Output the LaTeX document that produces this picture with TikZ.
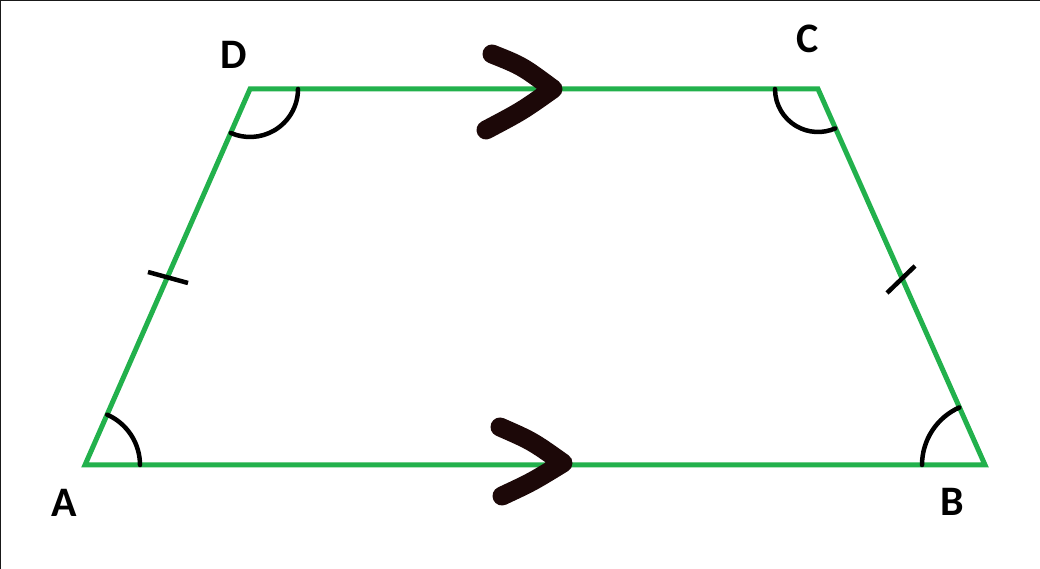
\documentclass[tikz,border=0pt]{standalone}
\usepackage{fontspec}
\setmainfont{Carlito}
\begin{document}
\begin{tikzpicture}[x=1pt,y=1pt,
  side/.style={draw=trapgreen,line width=5pt,line join=miter},
  anglemark/.style={draw=black,line width=4.5pt,line cap=round},
  tickmark/.style={draw=black,line width=4.5pt},
  chevron/.style={draw=chevcol,line width=19pt,line cap=round,line join=round},
  vlabel/.style={inner sep=0pt,font=\fontsize{42}{42}\selectfont\bfseries,text=black}]
\definecolor{trapgreen}{HTML}{22B14C}
\definecolor{chevcol}{HTML}{1C0808}
\useasboundingbox (0,0) rectangle (1040,569);
\fill[white] (0,0) rectangle (1040,569);
\draw[line width=2.5pt,draw=black!90] (0,0) -- (0,569) -- (1040,569);
% vertices
\coordinate (A) at (85,104);
\coordinate (B) at (985,104);
\coordinate (C) at (818,480);
\coordinate (D) at (250,480);
% sides
\draw[side] (A) -- (B) -- (C) -- (D) -- cycle;
% angle marks
\draw[anglemark] ([shift={(0:55)}]A) arc[start angle=0,end angle=66.3,radius=55];
\draw[anglemark] ([shift={(180:63)}]B) arc[start angle=180,end angle=114,radius=63];
\draw[anglemark] ([shift={(0:48)}]D) arc[start angle=0,end angle=-113.7,radius=48];
\draw[anglemark] ([shift={(180:43)}]C) arc[start angle=180,end angle=293.7,radius=43];
% equal-side ticks
\coordinate (t1a) at (148,297);
\coordinate (t1b) at (188,286);
\coordinate (t2a) at (887,276);
\coordinate (t2b) at (915,303);
\draw[tickmark] (t1a) -- (t1b);
\draw[tickmark] (t2a) -- (t2b);
% parallel chevrons
\coordinate (p1a) at (492,515);
\coordinate (p1t) at (553,480);
\coordinate (p1b) at (486,439);
\draw[chevron] (p1a) .. controls (522,503) .. (p1t) .. controls (522,458) .. (p1b);
\coordinate (p2a) at (500,142);
\coordinate (p2t) at (563,106);
\coordinate (p2b) at (502,73);
\draw[chevron] (p2a) .. controls (532,128) .. (p2t) .. controls (532,87) .. (p2b);
% labels
\node[vlabel] (lA) at (64,66) {A};
\node[vlabel] (lB) at (952,67) {B};
\node[vlabel] (lC) at (808,530) {C};
\node[vlabel] (lD) at (234,514) {D};
\end{tikzpicture}
\end{document}
